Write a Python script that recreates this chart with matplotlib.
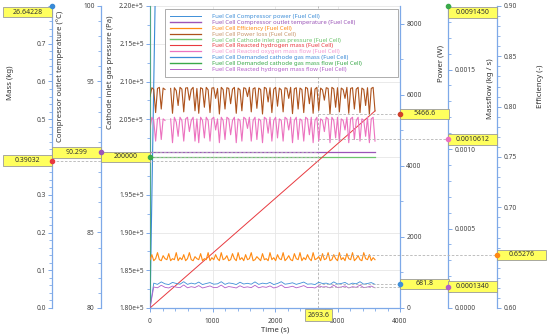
import numpy as np
import matplotlib
matplotlib.use('Agg')
import matplotlib.pyplot as plt
import matplotlib.transforms as mtransforms
from matplotlib.patches import Rectangle
from matplotlib.lines import Line2D
from matplotlib.ticker import MultipleLocator, FuncFormatter

plt.rcParams['font.family'] = ['Noto Sans', 'DejaVu Sans']
nan = np.nan

## data
# noisy signals, samples evenly spaced over 0..3600 s
power_loss = [5950, 6200, 6150, 5500, 6180, 6210, 5600, 6190, 6150, nan,
              nan, 6180, 5480, 6200, 6120, 5700, 6210, 6160, 5520, 6190,
              6200, 5850, 6150, 6210, 5550, 6180, 5480, 6200, 6170, 5650,
              6210, 6140, 5500, 6190, 6200, 5900, 6180, 5460, 6210, 6150,
              5600, 6200, 6180, 5750, 6160, 6210, 5480, 6190, 6140, 5550,
              6200, 6180, 5950, 6210, 5520, 6170, 6200, 5620, 6190, 6150,
              5460, 6210, 6180, 5800, 6200, 5500, 6160, 6210, 5680, 6190,
              6140, 5520, 6200, 6180, 5900, 6210, 5470, 6170, 6200, 5600,
              6190, 6150, 5500, 6210, 6180, 5750, 6200, 5480, 6160, 6210,
              5560, 6190, 6140, 5850, 6200, 6180, 5460, 6210, 6170, 5650,
              6200, 5520, 6190, 6150, 5900, 6210, 5480, 6180, 6200, 5600,
              6160, 6210, 5500, 6190, 6150, 5700, 6200, 5450, 6180, 6210,
              5550]
o2_flow = [0.00113, 0.00120, 0.00118, 0.00105, 0.00119, 0.00120, 0.00106, 0.00119, 0.00118, nan,
           nan, 0.00119, 0.00104, 0.00120, 0.00117, 0.00108, 0.00120, 0.00118, 0.00105, 0.00119,
           0.00120, 0.00111, 0.00118, 0.00120, 0.00105, 0.00119, 0.00104, 0.00120, 0.00118, 0.00107,
           0.00120, 0.00118, 0.00105, 0.00119, 0.00120, 0.00112, 0.00119, 0.00104, 0.00120, 0.00118,
           0.00106, 0.00120, 0.00119, 0.00109, 0.00118, 0.00120, 0.00104, 0.00119, 0.00118, 0.00105,
           0.00120, 0.00119, 0.00113, 0.00120, 0.00105, 0.00118, 0.00120, 0.00106, 0.00119, 0.00118,
           0.00104, 0.00120, 0.00119, 0.00110, 0.00120, 0.00105, 0.00118, 0.00120, 0.00107, 0.00119,
           0.00118, 0.00105, 0.00120, 0.00119, 0.00112, 0.00120, 0.00104, 0.00118, 0.00120, 0.00106,
           0.00119, 0.00118, 0.00105, 0.00120, 0.00119, 0.00109, 0.00120, 0.00104, 0.00118, 0.00120,
           0.00105, 0.00119, 0.00118, 0.00111, 0.00120, 0.00119, 0.00104, 0.00120, 0.00118, 0.00107,
           0.00120, 0.00105, 0.00119, 0.00118, 0.00112, 0.00120, 0.00104, 0.00119, 0.00120, 0.00106,
           0.00118, 0.00120, 0.00105, 0.00119, 0.00118, 0.00108, 0.00120, 0.00104, 0.00119, 0.00120,
           0.00105]
efficiency = [0.648, 0.653, 0.647, 0.649, 0.655, 0.648, 0.647, 0.652, 0.649, 0.648,
              0.654, 0.647, 0.649, 0.648, 0.655, 0.647, 0.650, 0.648, 0.653, 0.647,
              0.649, 0.655, 0.648, 0.647, 0.651, 0.649, 0.648, 0.654, 0.647, 0.649,
              0.648, 0.655, 0.647, 0.650, 0.648, 0.653, 0.649, 0.647, 0.655, 0.648,
              0.649, 0.652, 0.647, 0.648, 0.654, 0.649, 0.647, 0.655, 0.648, 0.650,
              0.647, 0.653, 0.648, 0.649, 0.655, 0.647, 0.648, 0.651, 0.649, 0.647,
              0.654, 0.648, 0.649, 0.647, 0.655, 0.648, 0.650, 0.647, 0.653, 0.649,
              0.648, 0.655, 0.647, 0.649, 0.652, 0.648, 0.647, 0.654, 0.649, 0.648,
              0.655, 0.647, 0.650, 0.648, 0.653, 0.649, 0.647, 0.655, 0.648, 0.649,
              0.651, 0.647, 0.654, 0.648, 0.649, 0.655, 0.647, 0.648, 0.653, 0.649,
              0.647, 0.655, 0.648, 0.650, 0.647, 0.654, 0.649, 0.648, 0.655, 0.647,
              0.649, 0.652, 0.648, 0.647, 0.655, 0.649, 0.648, 0.653, 0.647, 0.650,
              0.648]
comp_power = [0, 700, 665, 735, 680, 660, 720, 690, 670, 740,
              665, 700, 675, 730, 660, 690, 715, 670, 680, 740,
              665, 705, 690, 660, 725, 675, 695, 670, 735, 665,
              700, 680, 720, 660, 690, 740, 670, 685, 710, 665,
              695, 730, 670, 680, 660, 725, 690, 700, 665, 735,
              675, 690, 720, 660, 700, 680, 740, 670, 690, 715,
              665]
h2_flow = [0, 0.000132, 0.000127, 0.000143, 0.000130, 0.000126, 0.000138, 0.000131, 0.000128, 0.000145,
           0.000127, 0.000134, 0.000129, 0.000141, 0.000126, 0.000132, 0.000139, 0.000128, 0.000130, 0.000144,
           0.000127, 0.000135, 0.000131, 0.000126, 0.000140, 0.000129, 0.000133, 0.000128, 0.000143, 0.000127,
           0.000134, 0.000130, 0.000139, 0.000126, 0.000132, 0.000145, 0.000128, 0.000131, 0.000137, 0.000127,
           0.000133, 0.000141, 0.000128, 0.000130, 0.000126, 0.000140, 0.000132, 0.000134, 0.000127, 0.000143,
           0.000129, 0.000132, 0.000139, 0.000126, 0.000134, 0.000130, 0.000144, 0.000128, 0.000132, 0.000138,
           0.000127]

# smooth signals
ramp_t = [0, 2693.6, 3600]
h2_mass = [0, 0.39032, 0.522]
cath_mass = [0, 26.64228, 35.6]
flat_t = [0, 3600]
comp_temp = [90.299, 90.299]
cath_pressure = [200000, 200000]
cath_flow_t = [0, 1, 3600]
cath_flow = [0, 0.009145, 0.009145]

# cursor readouts
cursor_t = 2693.6
cursor_mass = ['26.64228', '0.39032']
cursor_temp = ['90.299']
cursor_pressure = ['200000']
cursor_power = ['5466.6', '681.8']
cursor_flow = ['0.0091450', '0.0010612', '0.0001340']
cursor_eff = ['0.65276']

legend_labels = ['Fuel Cell Compressor power (Fuel Cell)',
                 'Fuel Cell Compressor outlet temperature (Fuel Cell)',
                 'Fuel Cell Efficiency (Fuel Cell)',
                 'Fuel Cell Power loss (Fuel Cell)',
                 'Fuel Cell Cathode inlet gas pressure (Fuel Cell)',
                 'Fuel Cell Reacted hydrogen mass (Fuel Cell)',
                 'Fuel Cell Reacted oxygen mass flow (Fuel Cell)',
                 'Fuel Cell Demanded cathode gas mass (Fuel Cell)',
                 'Fuel Cell Demanded cathode gas mass flow (Fuel Cell)',
                 'Fuel Cell Reacted hydrogen mass flow (Fuel Cell)']

## colours
c_cpow = '#3f8fd8'
c_temp = '#9b55b8'
c_eff = '#ff8a12'
c_loss = '#ad521c'
c_pres = '#6cc46c'
c_h2m = '#e8393f'
c_o2f = '#ec72bf'
c_cm = '#3a8ad6'
c_cf = '#3aa94a'
c_h2f = '#b25ec8'
spine_c = '#7ea9e8'
tick_txt = '#444444'
box_face = '#ffff5e'

## figure and axes
W, H = 550, 336
fig = plt.figure(figsize=(W / 100, H / 100), dpi=100)
ax = fig.add_axes([150 / W, 28 / H, 250 / W, 302 / H])
ax_temp = ax.twinx()
ax_mass = ax.twinx()
ax_pow = ax.twinx()
ax_flow = ax.twinx()
ax_eff = ax.twinx()

# side, spine position, limits, major, minor, tick format
specs = [
    (ax, 'left', 0.0, (1.8e5, 2.2e5), 5000, 2500, lambda v: '%.2fe+5' % (v / 1e5)),
    (ax_temp, 'left', -0.196, (80, 100), 5, 1, lambda v: '%d' % round(v)),
    (ax_mass, 'left', -0.392, (0, 0.8), 0.1, 0.02, lambda v: '%.1f' % v),
    (ax_pow, 'right', 1.0, (0, 8500), 2000, 1000, lambda v: '%d' % round(v)),
    (ax_flow, 'right', 1.192, (0, 0.0019), 0.0005, 0.0001, lambda v: '%.4f' % v),
    (ax_eff, 'right', 1.388, (0.6, 0.9), 0.05, 0.01, lambda v: '%.2f' % v),
]
spine_pos = {}
tick_fmt = {}
hidden = {}
for a, side, pos, lim, major, minor, fmt in specs:
    spine_pos[a] = (side, pos)
    tick_fmt[a] = fmt
    hidden[a] = []
    for name, s in a.spines.items():
        s.set_visible(False)
    a.spines[side].set_visible(True)
    a.spines[side].set_position(('axes', pos))
    a.spines[side].set_color(spine_c)
    a.spines[side].set_linewidth(0.9)
    if side == 'left':
        a.yaxis.tick_left()
    else:
        a.yaxis.tick_right()
    a.set_ylim(*lim)
    a.yaxis.set_major_locator(MultipleLocator(major))
    a.yaxis.set_minor_locator(MultipleLocator(minor))
    a.tick_params(axis='y', which='both', colors=spine_c, labelcolor=tick_txt,
                  labelsize=4.8, direction='out', pad=1.5)
    a.tick_params(axis='y', which='major', length=3, width=0.7)
    a.tick_params(axis='y', which='minor', length=2, width=0.6)

ax.spines['bottom'].set_visible(True)
ax.spines['bottom'].set_color(spine_c)
ax.spines['bottom'].set_linewidth(0.9)
ax.set_xlim(0, 4000)
ax.xaxis.set_major_locator(MultipleLocator(1000))
ax.xaxis.set_minor_locator(MultipleLocator(200))
ax.tick_params(axis='x', which='both', colors=spine_c, labelcolor=tick_txt,
               labelsize=4.8, direction='out', pad=4)
ax.tick_params(axis='x', which='major', length=3, width=0.7)
ax.tick_params(axis='x', which='minor', length=2, width=0.6)
ax.set_xlabel('Time (s)', fontsize=5.6, color='#333333', labelpad=1.5)
ax.grid(True, which='major', color='#e6e6e6', linewidth=0.6)
ax.set_axisbelow(True)

## series
def t_of(vals):
    return np.linspace(0, 3600, len(vals))

h_cpow, = ax_pow.plot(t_of(comp_power), comp_power, color=c_cpow, lw=0.6)
h_temp, = ax_temp.plot(flat_t, comp_temp, color=c_temp, lw=0.9)
h_eff, = ax_eff.plot(t_of(efficiency), efficiency, color=c_eff, lw=0.8)
h_loss, = ax_pow.plot(t_of(power_loss), power_loss, color=c_loss, lw=0.8)
h_pres, = ax.plot(flat_t, cath_pressure, color=c_pres, lw=0.9)
h_h2m, = ax_mass.plot(ramp_t, h2_mass, color=c_h2m, lw=0.7)
h_o2f, = ax_flow.plot(t_of(o2_flow), o2_flow, color=c_o2f, lw=0.8)
h_cm, = ax_mass.plot(ramp_t, cath_mass, color=c_cm, lw=0.8)
h_cf, = ax_flow.plot(cath_flow_t, cath_flow, color=c_cf, lw=0.9)
h_h2f, = ax_flow.plot(t_of(h2_flow), h2_flow, color=c_h2f, lw=0.6)

handles = [h_cpow, h_temp, h_eff, h_loss, h_pres, h_h2m, h_o2f, h_cm, h_cf, h_h2f]
leg_handles = [Line2D([], [], color=h.get_color(), lw=h.get_linewidth() + 0.1) for h in handles]
text_cols = [c_cpow, c_temp, c_eff, '#c8966c', c_pres, c_h2m, '#f29ad2', c_cm, c_cf, c_h2f]
leg = ax_eff.legend(leg_handles, legend_labels, loc='upper left',
                    bbox_to_anchor=(0.06, 0.74, 0.932, 0.25), mode='expand',
                    fontsize=4.3, frameon=True, fancybox=False, framealpha=1,
                    edgecolor='#a0a0a0', handlelength=5.3, handletextpad=1.8,
                    labelspacing=0.12, borderpad=0.8, borderaxespad=0)
leg.get_frame().set_linewidth(0.6)
for txt, c in zip(leg.get_texts(), text_cols):
    txt.set_color(c)

## cursor line and readouts
ax.axvline(cursor_t, color='#b0b0b0', lw=0.6, ls=(0, (3, 2)))
cursor_x = cursor_t / 4000


def readout(a, values, colors):
    side, pos = spine_pos[a]
    lo, hi = a.get_ylim()
    bh = (hi - lo) * 10.5 / 302
    tr = mtransforms.blended_transform_factory(ax.transAxes, a.transData)
    for s, c in zip(values, colors):
        v = float(s)
        if v > hi:
            yd = hi
            yb = hi - bh - (hi - lo) / 302
        else:
            yd = v
            yb = v - bh / 2
            xs = [pos, cursor_x] if side == 'left' else [cursor_x, pos]
            fig.add_artist(Line2D(xs, [v, v], transform=tr, color='#b4b4b4', lw=0.6,
                                  ls=(0, (3, 2)), zorder=0.5))
        hidden[a].append((yb - (hi - lo) * 0.01, yb + bh + (hi - lo) * 0.01))
        x0 = pos - 0.196 if side == 'left' else pos
        fig.add_artist(Rectangle((x0, yb), 0.196, bh, transform=tr, facecolor=box_face,
                                 edgecolor='#9a9a9a', lw=0.6, zorder=2))
        fig.text(x0 + 0.098, yb + bh / 2, s, transform=tr, ha='center', va='center',
                 fontsize=5, color='#333333', zorder=3)
        fig.add_artist(Line2D([pos], [yd], transform=tr, marker='o', ms=3, color=c,
                              lw=0, zorder=3))


readout(ax_mass, cursor_mass, [c_cm, c_h2m])
readout(ax_temp, cursor_temp, [c_temp])
readout(ax, cursor_pressure, [c_cf])
readout(ax_pow, cursor_power, ['#d0402a', c_cpow])
readout(ax_flow, cursor_flow, [c_cf, c_o2f, c_h2f])
readout(ax_eff, cursor_eff, [c_eff])

# tick labels sitting under a readout box are not drawn
for a in tick_fmt:
    def make(f, spans):
        return FuncFormatter(lambda v, p: '' if any(l <= v <= u for l, u in spans) else f(v))
    a.yaxis.set_major_formatter(make(tick_fmt[a], hidden[a]))

ax.text(cursor_t, -0.012, '%.1f' % cursor_t,
        transform=mtransforms.blended_transform_factory(ax.transData, ax.transAxes),
        ha='center', va='top', fontsize=5, color='#333333', zorder=5, clip_on=False,
        bbox=dict(boxstyle='square,pad=0.35', facecolor=box_face, edgecolor='#9a9a9a', lw=0.6))

## axis titles
ylab = dict(rotation=90, ha='center', va='center', fontsize=5.6, color='#333333')
fig.text(10 / W, 1 - 83 / H, 'Mass (kg)', **ylab)
fig.text(60 / W, 1 - 76 / H, 'Compressor outlet temperature (°C)', **ylab)
fig.text(110 / W, 1 - 72 / H, 'Cathode inlet gas pressure (Pa)', **ylab)
fig.text(441 / W, 1 - 63 / H, 'Power (W)', **ylab)
fig.text(491 / W, 1 - 89 / H, 'Massflow (kg / s)', **ylab)
fig.text(540 / W, 1 - 86 / H, 'Efficiency (-)', **ylab)

fig.savefig('out.png', dpi=100, facecolor='white')
